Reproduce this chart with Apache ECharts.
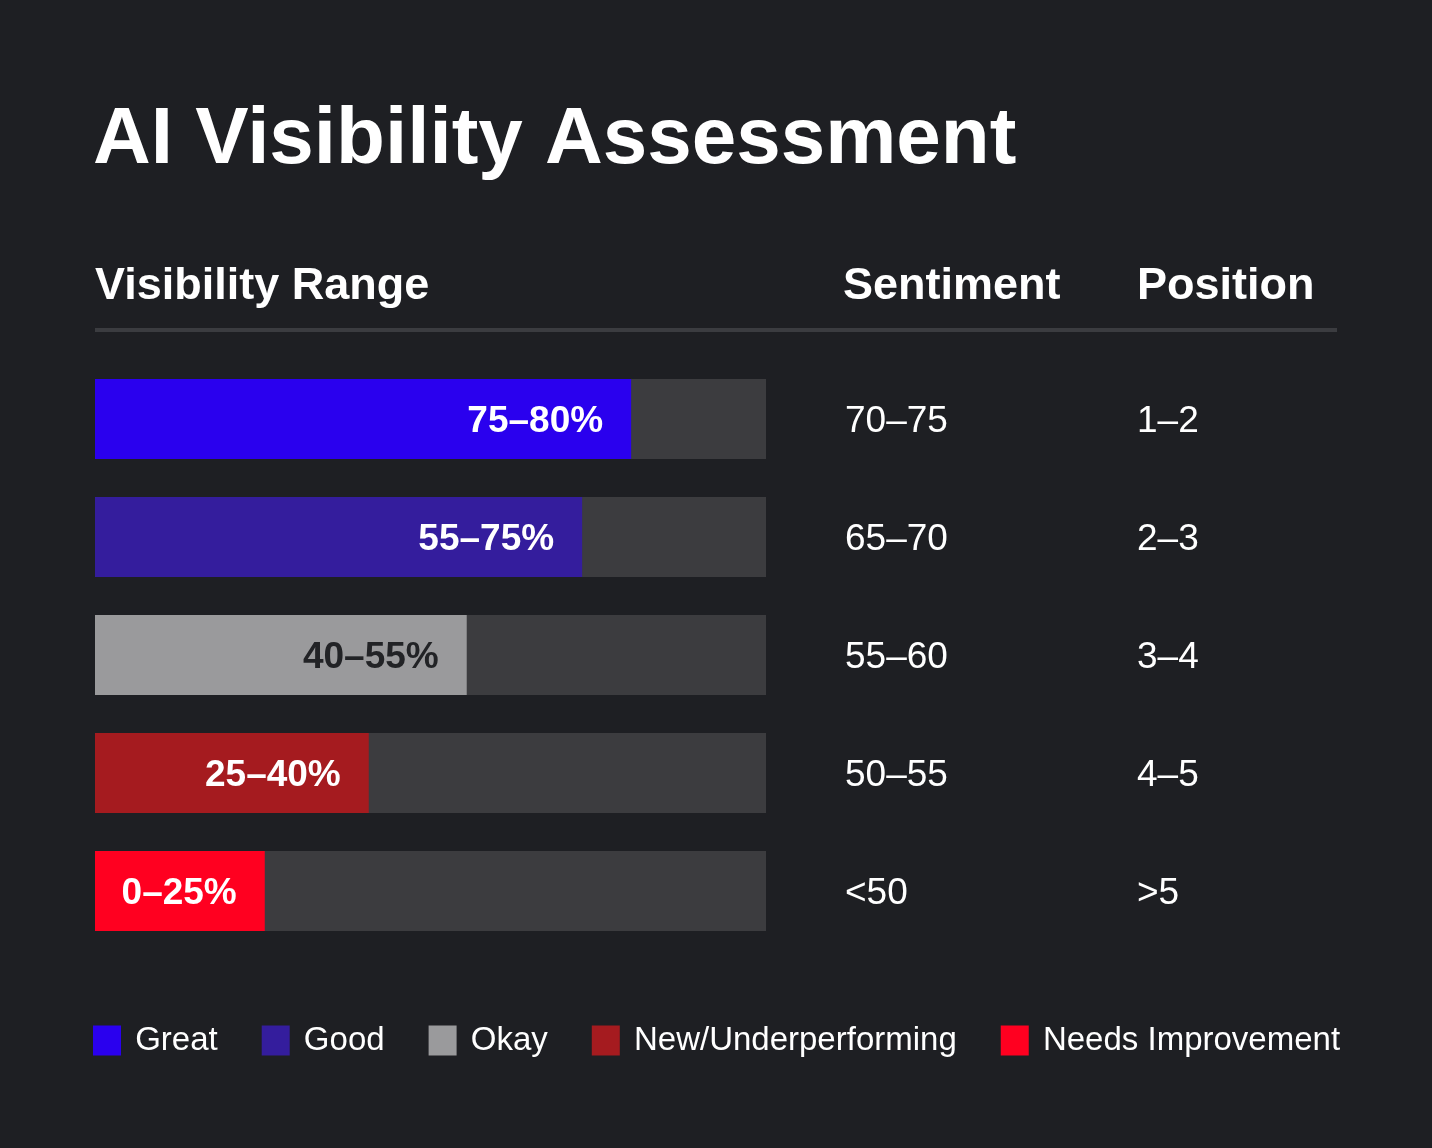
<!DOCTYPE html>
<html>
<head>
<meta charset="utf-8">
<title>AI Visibility Assessment</title>
<script src="https://cdn.jsdelivr.net/npm/echarts@6/dist/echarts.min.js"></script>
<style>
  html, body { margin: 0; padding: 0; background: #1e1f23; }
  #chart { width: 1432px; height: 1148px; }
</style>
</head>
<body>
<div id="chart"></div>
<script>
  const tiers = ['Great', 'Good', 'Okay', 'New/Underperforming', 'Needs Improvement']
  const visibility = [79.9, 72.6, 55.4, 40.8, 25.3]
  const rangeLabels = ['75–80%', '55–75%', '40–55%', '25–40%', '0–25%']
  const sentiment = ['70–75', '65–70', '55–60', '50–55', '<50']
  const position = ['1–2', '2–3', '3–4', '4–5', '>5']
  const tierColors = ['#2a00ee', '#341d9d', '#9a9a9c', '#a51b1f', '#ff0020']
  const trackMax = [100, 100, 100, 100, 100]

  const FONT = '"Liberation Sans", Arial, Helvetica, sans-serif'
  const BG = '#1e1f23'
  const TRACK = '#3c3c3f'

  const chart = echarts.init(document.getElementById('chart'))

  const tierSeries = tiers.map((name, i) => ({
    name,
    type: 'bar',
    stack: 'tier',
    barWidth: 80,
    z: 3,
    itemStyle: { color: tierColors[i] },
    data: visibility.map((v, j) => (j === i ? v : '-')),
    label: {
      show: true,
      position: 'insideRight',
      distance: 28,
      formatter: (p) => '{b|' + rangeLabels[p.dataIndex] + '}',
      rich: {
        b: {
          padding: [5, 0, 0, 0],
          color: i === 2 ? '#222326' : '#ffffff',
          fontFamily: FONT,
          fontWeight: 'bold',
          fontSize: 37
        }
      }
    }
  }))

  function headerTitle(text, left) {
    return {
      text,
      left,
      top: 264,
      padding: 0,
      textStyle: { color: '#ffffff', fontFamily: FONT, fontWeight: 'bold', fontSize: 45, lineHeight: 45 }
    }
  }

  function columnAxis(data, offset) {
    return {
      type: 'category',
      inverse: true,
      position: 'right',
      offset,
      data,
      axisLine: { show: false },
      axisTick: { show: false },
      axisLabel: {
        margin: 79,
        align: 'left',
        formatter: (value) => '{v|' + value + '}',
        rich: {
          v: {
            padding: [6, 0, 0, 0],
            color: '#ffffff',
            fontFamily: FONT,
            fontSize: 37
          }
        }
      }
    }
  }

  chart.setOption({
    backgroundColor: BG,
    animation: false,
    title: [
      {
        text: 'AI Visibility Assessment',
        left: 93,
        top: 101,
        padding: 0,
        textStyle: { color: '#ffffff', fontFamily: FONT, fontWeight: 'bold', fontSize: 80, lineHeight: 80 }
      },
      headerTitle('Visibility Range', 95),
      headerTitle('Sentiment', 843),
      headerTitle('Position', 1137)
    ],
    graphic: [
      {
        type: 'line',
        shape: { x1: 95, y1: 330, x2: 1337, y2: 330 },
        style: { stroke: '#3b3c40', lineWidth: 4 }
      }
    ],
    legend: {
      left: 93,
      top: 1024,
      padding: 0,
      itemWidth: 28,
      itemHeight: 30,
      itemGap: 44,
      icon: 'rect',
      data: tiers,
      formatter: (name) => ' ' + name,
      textStyle: { color: '#ffffff', fontFamily: FONT, fontSize: 33 }
    },
    grid: {
      left: 95,
      right: 666,
      top: 360,
      bottom: 198
    },
    xAxis: {
      type: 'value',
      min: 0,
      max: 100,
      show: false
    },
    yAxis: [
      {
        type: 'category',
        inverse: true,
        data: tiers,
        axisLine: { show: false },
        axisTick: { show: false },
        axisLabel: { show: false }
      },
      columnAxis(sentiment, 0),
      columnAxis(position, 292)
    ],
    series: [
      {
        name: 'track',
        type: 'bar',
        barWidth: 80,
        barGap: '-100%',
        z: 1,
        silent: true,
        itemStyle: { color: TRACK },
        data: trackMax
      }
    ].concat(tierSeries)
  })

  window.addEventListener('resize', () => chart.resize())
</script>
</body>
</html>
